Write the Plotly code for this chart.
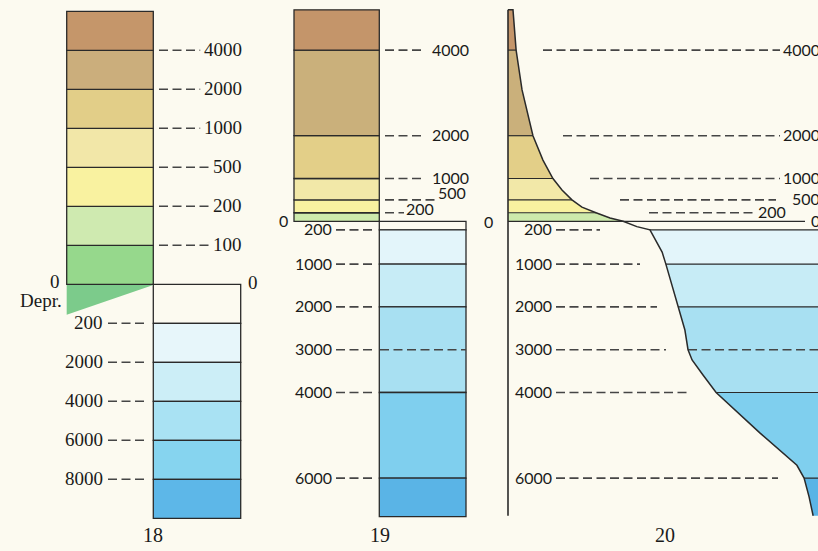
import plotly.graph_objects as go

W, H = 818, 551
BG = "#fcfaf0"
EDGE = "#2a2a2a"
DASHC = "#454545"
TXT = "#1a1a1a"
SERIF = "Liberation Serif"
SANS = "Lato"
DASHPAT = "9px,4.5px"

# ------------------------------------------------------------------ data
# Panel 18 : stepped tint scale (every tint gets the same height)
P18_LAND_BOUNDS = [0, 100, 200, 500, 1000, 2000, 4000]          # lower limits of land tints (m)
P18_LAND_COLORS = ["#96d88c", "#cfeab0", "#f9f2a0", "#f2e7a8", "#e2ce88", "#cbae7c", "#c5966a"]
P18_LAND_TICKS = ["100", "200", "500", "1000", "2000", "4000"]
P18_SEA_BOUNDS = [0, 200, 2000, 4000, 6000, 8000]                # upper limits of sea tints (m)
P18_SEA_COLORS = [BG, "#e7f6fa", "#cceef7", "#a9e2f3", "#86d4ef", "#5db7e8"]
P18_SEA_TICKS = ["200", "2000", "4000", "6000", "8000"]
P18_DEPR_COLOR = "#7ccb8b"

# Panel 19 : proportional tint scale (metres)
P19_LAND_BOUNDS = [0, 200, 500, 1000, 2000, 4000]
P19_LAND_TOP = 4940
P19_LAND_COLORS = ["#cdeaac", "#f8f1a0", "#f2e8a8", "#e3cf88", "#cab07b", "#c4956a"]
P19_LAND_TICKS = [200, 500, 1000, 2000, 4000]
P19_SEA_BOUNDS = [0, 200, 1000, 2000, 4000, 6000]
P19_SEA_BOTTOM = 6900
P19_SEA_COLORS = [BG, "#e3f5fa", "#c7ecf6", "#a8e0f2", "#7fcfee", "#5ab4e6"]
P19_SEA_TICKS = [200, 1000, 2000, 3000, 4000, 6000]
P19_SEA_DASHED = [3000]

# Panel 20 : hypsographic curve (cumulative % of surface above elevation)
CURVE_PCT = [1.6, 2.6, 4.5, 8.0, 11.2, 14.4, 17.3, 20.5, 23.7, 28.2, 32.7, 36.9,
             41.3, 45.5, 47.1, 49.4, 50.6, 52.9, 54.5, 56.7, 57.7, 59.0, 62.5,
             66.7, 80.8, 92.6, 94.9, 96.5, 97.8]
CURVE_ELEV = [4940, 4000, 3070, 2000, 1430, 1000, 730, 500, 330, 200, 77, 0,
              -125, -200, -410, -720, -1000, -1600, -2000, -2540, -3000, -3240, -3590,
              -4000, -4950, -5700, -6000, -6440, -6880]
P20_LAND_TICKS = [200, 500, 1000, 2000, 4000]
P20_SEA_TICKS = [200, 1000, 2000, 3000, 4000, 6000]

PANEL_NUMBERS = ["18", "19", "20"]

# ------------------------------------------------------------------ layout constants (pixels)
STEP18, ZERO18 = 39.0, 284.3          # panel 18 band height / zero line
PXM, ZERO_M = 0.0428, 221.3           # panels 19-20 px per metre / zero line
PCT0, PXPCT = 508.0, 3.12             # panel 20 curve origin / px per percent
SEA_EDGE = 106                        # panel 20 sea extends past the page (percent)

fig = go.Figure()


def dash(x0, x1, y, yref, width=1.6):
    fig.add_shape(type="line", xref="x", yref=yref, x0=x0, x1=x1, y0=y, y1=y,
                  line=dict(color=DASHC, width=width, dash=DASHPAT))


def label(text, x, y, yref, anchor, font, size, yshift=0, xref="x"):
    fig.add_annotation(text=text, x=x, y=y, xref=xref, yref=yref, xanchor=anchor,
                       yanchor="middle", showarrow=False, yshift=yshift,
                       font=dict(family=font, size=size, color=TXT))


def bars(center, width, bases, heights, colors, yaxis):
    n = len(bases)
    fig.add_trace(go.Bar(x=[center] * n, base=bases, y=heights, width=[width] * n,
                         marker=dict(color=colors, line=dict(color=EDGE, width=1.3)),
                         xaxis="x", yaxis=yaxis, hoverinfo="skip", showlegend=False))


# ------------------------------------------------------------------ panel 18
n_land = len(P18_LAND_BOUNDS)
bars(110.0, 86.6, list(range(n_land)), [1] * n_land, P18_LAND_COLORS, "y")
n_sea = len(P18_SEA_BOUNDS)
bars(197.0, 87.4, [-(i + 1) for i in range(n_sea)], [1] * n_sea, P18_SEA_COLORS, "y")
fig.add_trace(go.Scatter(x=[66.7, 153.3, 66.7], y=[-0.02, -0.02, -0.78], mode="lines",
                         fill="toself", fillcolor=P18_DEPR_COLOR, line=dict(width=0),
                         xaxis="x", yaxis="y", hoverinfo="skip", showlegend=False))
for k, t in enumerate(P18_LAND_TICKS, start=1):
    dash(159, 242 - 9.7 * len(t) - 3, k, "y")
    label(t, 243.5, k, "y", "right", SERIF, 19, 1)
for k, t in enumerate(P18_SEA_TICKS, start=1):
    dash(108, 147, -k, "y")
    label(t, 104.5, -k, "y", "right", SERIF, 19, 1)
label("0", 54.5, 0, "y", "center", SERIF, 19, 3)
label("Depr.", 64, -0.42, "y", "right", SERIF, 19, 0)
label("0", 253, 0, "y", "center", SERIF, 19, 2)

# ------------------------------------------------------------------ panel 19
lb = P19_LAND_BOUNDS + [P19_LAND_TOP]
bars(336.65, 85.3, lb[:-1], [lb[i + 1] - lb[i] for i in range(len(lb) - 1)],
     P19_LAND_COLORS, "y2")
sb = P19_SEA_BOUNDS + [P19_SEA_BOTTOM]
bars(422.65, 86.7, [-sb[i + 1] for i in range(len(sb) - 1)],
     [sb[i + 1] - sb[i] for i in range(len(sb) - 1)], P19_SEA_COLORS, "y2")
for d in P19_SEA_DASHED:
    dash(380, 466, -d, "y2")

p19_land_layout = {4000: (425, 430, 0), 2000: (425, 430, 0), 1000: (425, 430, 0),
                   500: (436, 436, 6), 200: (404, 404, 3)}
for lev in P19_LAND_TICKS:
    x1, lx, ys = p19_land_layout[lev]
    dash(385, x1, lev, "y2")
    label(str(lev), lx, lev, "y2", "left", SANS, 16, ys + 1)
for lev in P19_SEA_TICKS:
    dash(336, 373, -lev, "y2")
    label(str(lev), 333.5, -lev, "y2", "right", SANS, 16, 1)
label("0", 283.5, 0, "y2", "center", SANS, 16, 1)
label("0", 488.5, 0, "y2", "center", SANS, 16, 0)

# ------------------------------------------------------------------ panel 20
land_b = P19_LAND_BOUNDS + [CURVE_ELEV[0]]
for i, col in enumerate(P19_LAND_COLORS):
    lo, hi = land_b[i], land_b[i + 1]
    pts = [(p, e) for p, e in zip(CURVE_PCT, CURVE_ELEV) if lo <= e <= hi]
    fig.add_trace(go.Scatter(x=[0] + [p for p, _ in pts] + [0],
                             y=[hi] + [e for _, e in pts] + [lo],
                             mode="lines", fill="toself", fillcolor=col, line=dict(width=0),
                             xaxis="x2", yaxis="y2", hoverinfo="skip", showlegend=False))
sea_b = [-b for b in P19_SEA_BOUNDS] + [CURVE_ELEV[-1]]
for i, col in enumerate(P19_SEA_COLORS):
    if i == 0:
        continue
    hi, lo = sea_b[i], sea_b[i + 1]
    pts = [(p, e) for p, e in zip(CURVE_PCT, CURVE_ELEV) if lo <= e <= hi]
    fig.add_trace(go.Scatter(x=[p for p, _ in pts] + [SEA_EDGE, SEA_EDGE],
                             y=[e for _, e in pts] + [lo, hi],
                             mode="lines", fill="toself", fillcolor=col, line=dict(width=0),
                             xaxis="x2", yaxis="y2", hoverinfo="skip", showlegend=False))

at = dict(zip(CURVE_ELEV, CURVE_PCT))
sx, sy = [], []
for b in P19_LAND_BOUNDS[1:]:
    sx += [0, at[b], None]
    sy += [b, b, None]
sx += [0, (805 - PCT0) / PXPCT, None]
sy += [0, 0, None]
for b in P19_SEA_BOUNDS[1:]:
    sx += [at[-b], SEA_EDGE, None]
    sy += [-b, -b, None]
fig.add_trace(go.Scatter(x=sx, y=sy, mode="lines", line=dict(color=EDGE, width=1.2),
                         xaxis="x2", yaxis="y2", hoverinfo="skip", showlegend=False))
for d in P19_SEA_DASHED:
    fig.add_trace(go.Scatter(x=[at[-d], SEA_EDGE], y=[-d, -d], mode="lines",
                             line=dict(color=DASHC, width=1.6, dash=DASHPAT),
                             xaxis="x2", yaxis="y2", hoverinfo="skip", showlegend=False))
fig.add_trace(go.Scatter(x=[0] + CURVE_PCT, y=[CURVE_ELEV[0]] + CURVE_ELEV, mode="lines",
                         line=dict(color=EDGE, width=1.5),
                         xaxis="x2", yaxis="y2", hoverinfo="skip", showlegend=False))
fig.add_trace(go.Scatter(x=[0, 0], y=[CURVE_ELEV[0], CURVE_ELEV[-1]], mode="lines",
                         line=dict(color=EDGE, width=1.6),
                         xaxis="x2", yaxis="y2", hoverinfo="skip", showlegend=False))

p20_land_layout = {4000: (543, 780, 781), 2000: (563, 780, 781), 1000: (590, 780, 781),
                   500: (620, 776, 790), 200: (649, 755, 756)}
for lev in P20_LAND_TICKS:
    x0, x1, lx = p20_land_layout[lev]
    dash(x0, x1, lev, "y2")
    label(str(lev), lx, lev, "y2", "left", SANS, 16, 1)
label("0", 809, 0, "y2", "left", SANS, 16, 1)
p20_sea_dash_end = {200: 600, 1000: 640, 2000: 657, 3000: 666, 4000: 687, 6000: 778}
for lev in P20_SEA_TICKS:
    dash(556, p20_sea_dash_end[lev], -lev, "y2")
    label(str(lev), 553.5, -lev, "y2", "right", SANS, 16, 1)

# ------------------------------------------------------------------ panel numbers
for t, x in zip(PANEL_NUMBERS, [153, 380, 665]):
    fig.add_annotation(text=t, x=x, y=1 - 535 / H, xref="x", yref="paper", showarrow=False,
                       xanchor="center", yanchor="middle",
                       font=dict(family=SERIF, size=20, color=TXT))

ax = dict(visible=False, showgrid=False, zeroline=False, fixedrange=True)
fig.update_layout(
    width=W, height=H, autosize=False,
    margin=dict(l=0, r=0, t=0, b=0, pad=0),
    paper_bgcolor=BG, plot_bgcolor=BG,
    barmode="overlay", bargap=0,
    showlegend=False,
    xaxis=dict(range=[0, W], domain=[0, 1], **ax),
    xaxis2=dict(range=[-PCT0 / PXPCT, (W - PCT0) / PXPCT], overlaying="x", **ax),
    yaxis=dict(range=[-(H - ZERO18) / STEP18, ZERO18 / STEP18], domain=[0, 1], **ax),
    yaxis2=dict(range=[-(H - ZERO_M) / PXM, ZERO_M / PXM], overlaying="y", **ax),
)

fig.write_html(
    "out.html",
    config={"displayModeBar": False, "staticPlot": True},
    post_script="document.body.style.margin='0';document.body.style.padding='0';"
                "document.body.style.overflow='hidden';"
                "document.documentElement.style.background='" + BG + "';",
)
